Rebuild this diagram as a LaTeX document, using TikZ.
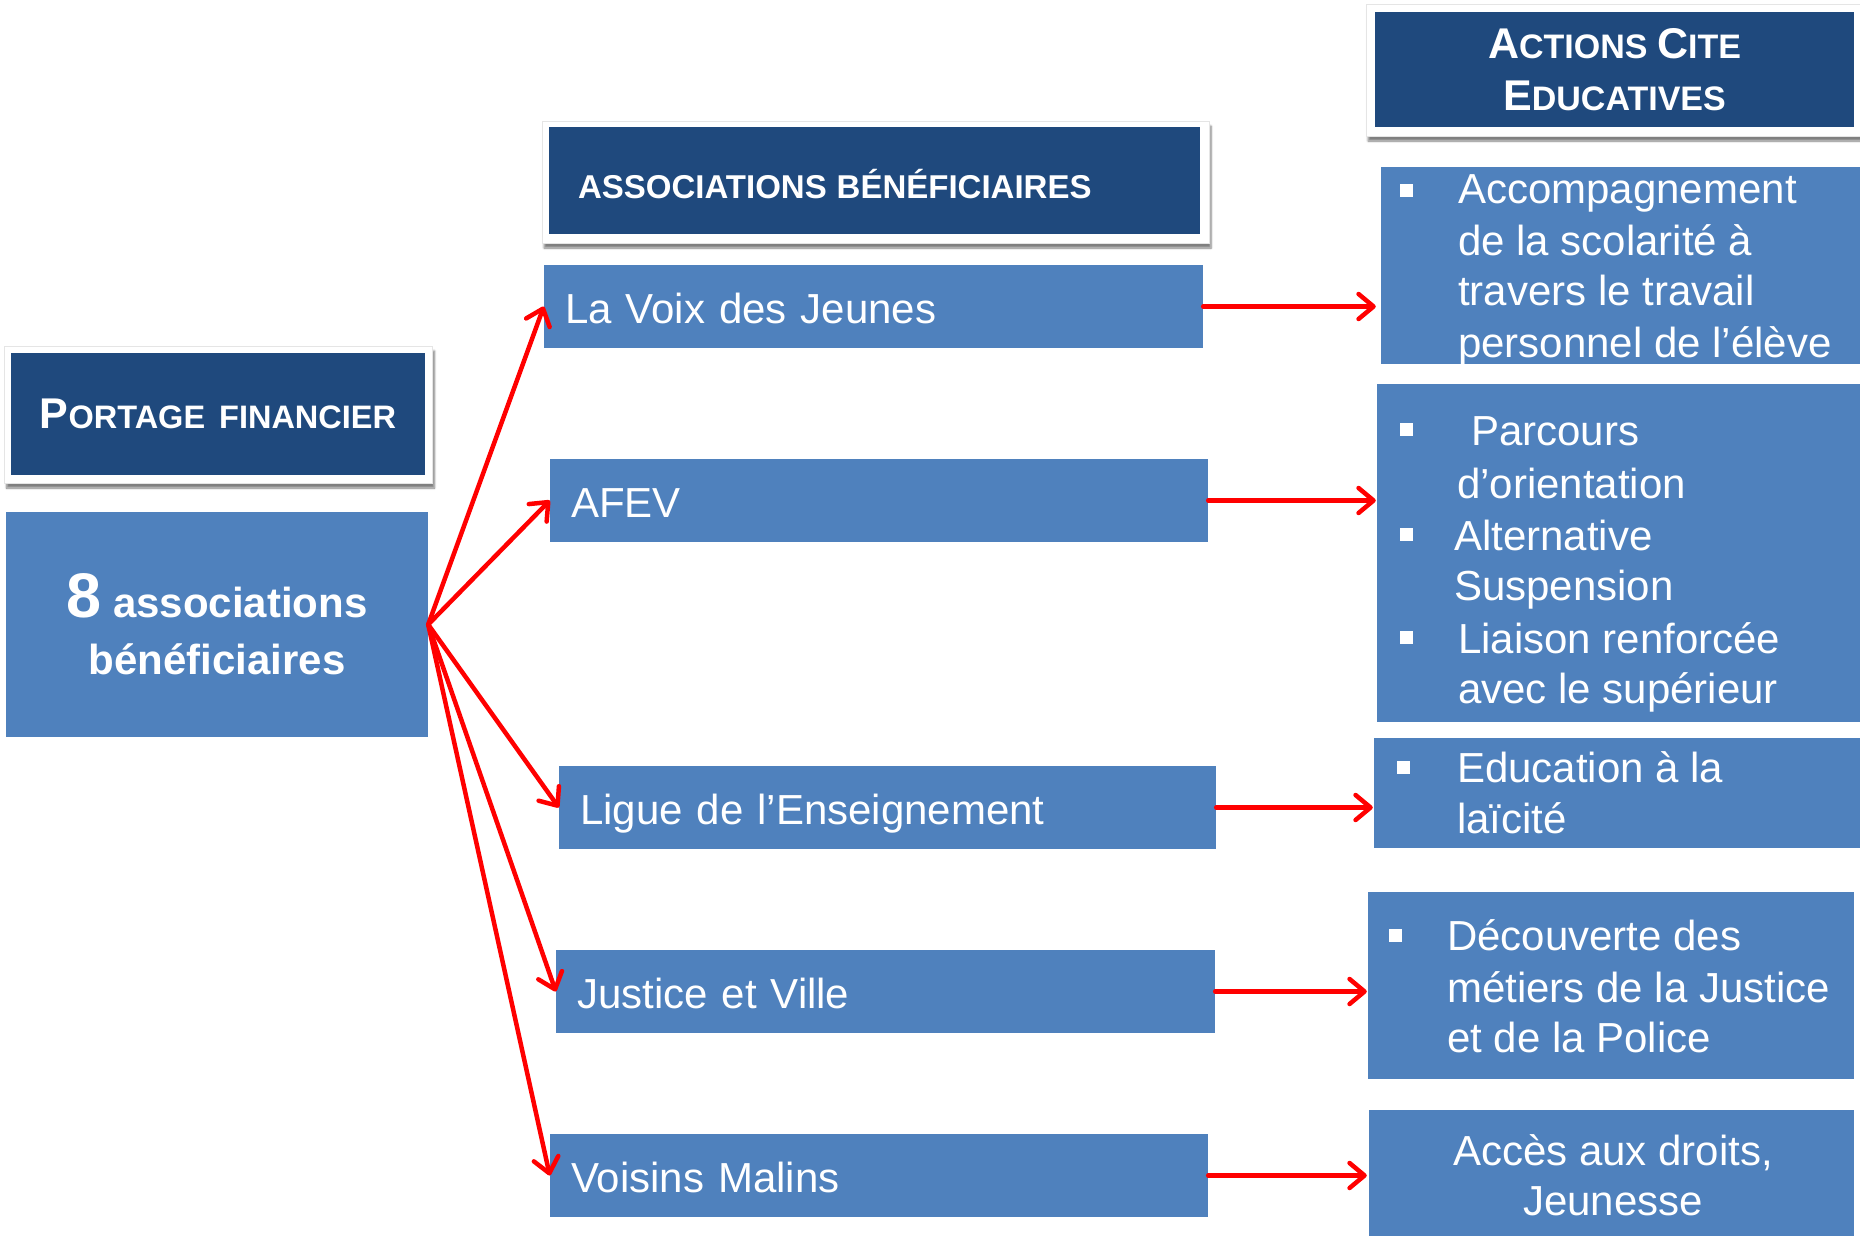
\documentclass[tikz,border=0pt]{standalone}
\usepackage{fontspec}
\setmainfont{Liberation Sans}
\usetikzlibrary{arrows.meta,shadows.blur}
\definecolor{darkb}{RGB}{31,73,125}
\definecolor{lightb}{RGB}{79,129,189}
\newcommand\Bcap[1]{{\fontsize{43}{52}\selectfont #1}}
\tikzset{
  frame/.style={fill=white, draw=black!10, line width=0.8pt,
    blur shadow={shadow xshift=2pt, shadow yshift=-5pt, shadow blur steps=6, shadow opacity=50}},
  hdr/.style={fill=darkb, text=white, inner sep=0pt, font=\fontsize{34}{52}\selectfont\bfseries},
  mid/.style={fill=lightb, text=white, minimum height=83pt, inner xsep=21pt, inner ysep=0pt,
    align=left, text height=34pt, text depth=0pt, font=\fontsize{42}{50}\selectfont},
  rbox/.style={fill=lightb, inner sep=0pt},
  rtxt/.style={text=white, inner sep=0pt, anchor=base west, font=\fontsize{42}{50}\selectfont},
  bul/.style={fill=white, inner sep=0pt, minimum size=13pt},
  arr/.style={draw=red, line width=4.5pt, line cap=round,
    -{Straight Barb[length=15pt, width=25pt, round]}}
}
\begin{document}
\begin{tikzpicture}[x=1pt,y=-1pt]
\useasboundingbox (0,0) rectangle (1860,1236);

% Portage financier header
\node[frame, minimum width=428pt, minimum height=137pt] (portfr) at (218.5,414.5) {};
\node[hdr, minimum width=414pt, minimum height=122pt, font=\fontsize{32.5}{52}\selectfont\bfseries] (port) at (218,414)
  {\Bcap{P}ORTAGE\hspace{14pt}FINANCIER};

% 8 associations
\node[fill=lightb, text=white, minimum width=422pt, minimum height=225pt, align=center,
  font=\fontsize{42}{57}\selectfont\bfseries] (n8) at (217,624.5)
  {{\fontsize{63}{57}\selectfont 8} associations\\bénéficiaires};

% Associations beneficiaires header
\node[frame, minimum width=667pt, minimum height=122pt] (assofr) at (875.5,182) {};
\node[hdr, minimum height=107pt, text width=593pt, inner xsep=29pt, align=left,
  text height=35pt, text depth=0pt, font=\fontsize{33}{40}\selectfont\bfseries] (asso) at (874.5,180.5)
  {ASSOCIATIONS\hspace{10pt}BÉNÉFICIAIRES};

% Middle boxes
\node[mid, text width=617pt] (voix) at (873.5,306.5) {La Voix des Jeunes};
\node[mid, text width=616pt] (afev) at (879,500.5) {AFEV};
\node[mid, text width=615pt] (ligue) at (887.5,807.5) {Ligue de l’Enseignement};
\node[mid, text width=617pt] (justice) at (885.5,991.5) {Justice et Ville};
\node[mid, text width=616pt] (voisins) at (879,1175.5) {Voisins Malins};

% Actions header
\node[frame, minimum width=500pt, minimum height=132pt] (actfr) at (1616,70) {};
\node[hdr, minimum width=479pt, minimum height=115pt, align=center] (act) at (1614.5,69.5)
  {\Bcap{A}CTIONS \Bcap{C}ITE\\\Bcap{E}DUCATIVES};

% Right boxes
\node[rbox, minimum width=479pt, minimum height=197pt] (r1) at (1620.5,265.5) {};
\node[rbox, minimum width=483pt, minimum height=338pt] (r2) at (1618.5,553) {};
\node[rbox, minimum width=486pt, minimum height=110pt] (r3) at (1617,793) {};
\node[rbox, minimum width=486pt, minimum height=187pt] (r4) at (1611,985.5) {};
\node[rbox, minimum width=485pt, minimum height=126pt] (r5) at (1611.5,1173) {};

% Right box texts
\node[bul] (b1) at (1406,190) {};
\node[rtxt] (t1a) at (1458,203) {Accompagnement};
\node[rtxt] (t1b) at (1458,255) {de la scolarité à};
\node[rtxt] (t1c) at (1458,305) {travers le travail};
\node[rtxt] (t1d) at (1458,357) {personnel de l’élève};

\node[bul] (b2) at (1406,429) {};
\node[rtxt] (t2a) at (1471,445) {Parcours};
\node[rtxt] (t2b) at (1457,498) {d’orientation};
\node[bul] (b3) at (1406,534) {};
\node[rtxt] (t2c) at (1454,550) {Alternative};
\node[rtxt] (t2d) at (1454,600) {Suspension};
\node[bul] (b4) at (1406,637) {};
\node[rtxt] (t2e) at (1458,653) {Liaison renforcée};
\node[rtxt] (t2f) at (1458,703) {avec le supérieur};

\node[bul] (b5) at (1403,767) {};
\node[rtxt] (t3a) at (1457,782) {Education à la};
\node[rtxt] (t3b) at (1457,833) {laïcité};

\node[bul] (b6) at (1395,935) {};
\node[rtxt] (t4a) at (1447,950) {Découverte des};
\node[rtxt] (t4b) at (1447,1002) {métiers de la Justice};
\node[rtxt] (t4c) at (1447,1052) {et de la Police};

\node[rtxt, anchor=base] (t5a) at (1613,1165) {Accès aux droits,};
\node[rtxt, anchor=base] (t5b) at (1613,1215) {Jeunesse};

% Fan arrows
\foreach \t in {voix,afev,ligue,justice,voisins}
  \draw[arr] (n8.east) -- (\t.west);

% Horizontal arrows
\draw[arr, shorten >=5pt] (voix.east) -- (voix.east -| r1.west);
\draw[arr, shorten >=1pt] (afev.east) -- (afev.east -| r2.west);
\draw[arr, shorten >=1pt] (ligue.east) -- (ligue.east -| r3.west);
\draw[arr, shorten >=1pt] (justice.east) -- (justice.east -| r4.west);
\draw[arr, shorten >=2pt] (voisins.east) -- (voisins.east -| r5.west);
\end{tikzpicture}
\end{document}
